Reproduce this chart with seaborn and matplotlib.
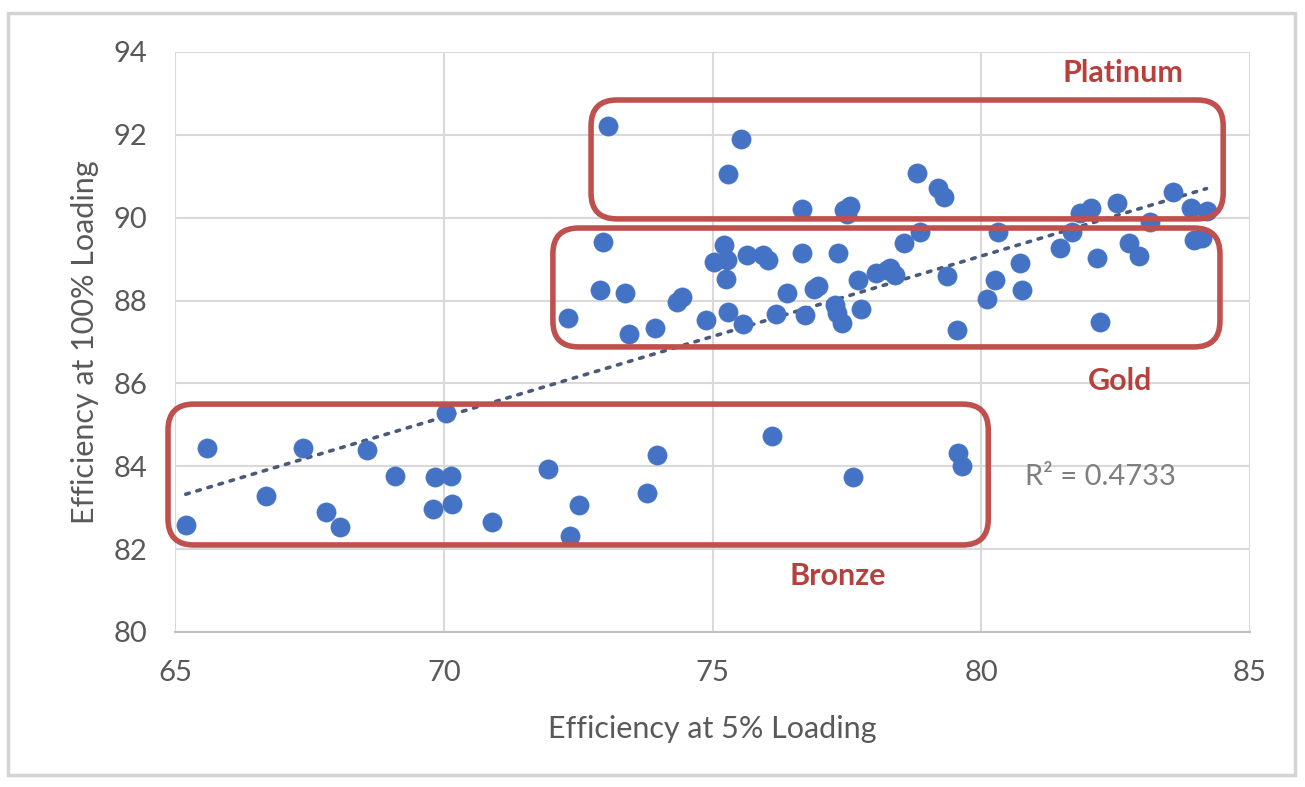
import matplotlib
matplotlib.use("Agg")
import matplotlib.pyplot as plt
import seaborn as sns
import pandas as pd
from matplotlib.patches import FancyBboxPatch, Rectangle

# Efficiency at 5% loading (x) and at 100% loading (y)
eff_5 = [
    65.2, 65.59, 66.7, 67.39, 67.8, 68.07, 68.58, 69.09, 69.8, 69.84, 70.05, 70.13,
    70.16, 70.9, 71.93, 72.35, 72.52, 73.79, 73.96, 76.11, 77.62, 79.56, 79.65,
    73.06, 75.53, 75.28, 76.67, 77.45, 77.56, 77.5, 72.96, 75.22, 75.02, 75.26,
    75.25, 75.64, 75.93, 76.04, 76.67, 77.33, 72.91, 73.38, 74.33, 74.43, 72.32,
    73.45, 73.93, 74.87, 75.28, 75.57, 76.38, 76.18, 76.72, 76.96, 76.88, 77.27,
    77.31, 77.4, 77.71, 77.76, 78.05, 78.24, 78.3, 78.4, 78.56, 78.86, 78.8,
    79.2, 79.31, 79.36, 79.54, 80.1, 80.26, 80.32, 80.72, 80.75, 81.47, 81.68,
    81.84, 82.05, 82.16, 82.21, 82.52, 82.74, 82.94, 83.14, 83.57, 83.91, 83.95,
    84.1, 84.19,
]
eff_100 = [
    82.58, 84.43, 83.27, 84.43, 82.9, 82.54, 84.39, 83.77, 82.96, 83.73, 85.28, 83.77,
    83.09, 82.65, 83.93, 82.32, 83.07, 83.35, 84.27, 84.73, 83.73, 84.33, 84.0,
    92.22, 91.89, 91.05, 90.21, 90.18, 90.27, 90.1, 89.42, 89.33, 88.92, 88.98,
    88.52, 89.1, 89.1, 88.98, 89.14, 89.14, 88.26, 88.18, 87.96, 88.08, 87.57,
    87.19, 87.33, 87.53, 87.73, 87.43, 88.18, 87.67, 87.65, 88.34, 88.28, 87.89,
    87.69, 87.45, 88.5, 87.8, 88.66, 88.74, 88.78, 88.62, 89.38, 89.66, 91.07,
    90.71, 90.51, 88.58, 87.29, 88.03, 88.5, 89.66, 88.9, 88.26, 89.26, 89.66,
    90.11, 90.23, 89.02, 87.47, 90.35, 89.4, 89.08, 89.9, 90.63, 90.23, 89.46,
    89.5, 90.15,
]

# group boxes: name, x range, y range (data units), label position
groups = ["Platinum", "Gold", "Bronze"]
box_x = [(72.74, 84.5), (72.03, 84.44), (64.87, 80.13)]
box_y = [(89.97, 92.84), (86.88, 89.75), (82.1, 85.5)]
label_pos = [(82.64, 93.49), (82.58, 86.06), (77.33, 81.35)]

df = pd.DataFrame({"x": eff_5, "y": eff_100})

sns.set_style("whitegrid")
plt.rcParams["font.family"] = ["Lato", "DejaVu Sans"]

fig = plt.figure(figsize=(13.05, 7.87), dpi=100)
ax = fig.add_axes([0.1341, 0.197, 0.8238, 0.737])

# outer chart frame
fig.patches.append(Rectangle((8 / 1305, 12 / 787), 1287 / 1305, 762 / 787,
                             transform=fig.transFigure, fill=False,
                             edgecolor="#D4D4D4", linewidth=2.5))

blue = "#4472C4"
red = "#C0504D"
sns.regplot(data=df, x="x", y="y", scatter=False, ci=None, ax=ax,
            line_kws=dict(color="#4A5A7A", linestyle=(0, (1, 2.2)), linewidth=2.6,
                          dash_capstyle="round"))
sns.scatterplot(data=df, x="x", y="y", ax=ax, color=blue, s=190,
                edgecolor=blue, linewidth=0.5, zorder=3)

aspect = 53.75 / 41.43
for name, (x0, x1), (y0, y1), (lx, ly) in zip(groups, box_x, box_y, label_pos):
    box = FancyBboxPatch((x0, y0), x1 - x0, y1 - y0,
                         boxstyle="round,pad=0,rounding_size=0.48",
                         mutation_aspect=aspect, fill=False, edgecolor=red,
                         linewidth=4, clip_on=False, zorder=4)
    ax.add_patch(box)
    ax.text(lx, ly, name, color="#B8403C", fontsize=22, fontweight="bold",
            ha="center", va="center")

ax.text(80.81, 83.74, "R² = 0.4733", color="#7F7F7F", fontsize=21,
        ha="left", va="center")

ax.set_xlim(65, 85)
ax.set_ylim(80, 94)
ax.set_xticks([65, 70, 75, 80, 85])
ax.set_yticks([80, 82, 84, 86, 88, 90, 92, 94])
ax.grid(color="#D9D9D9", linewidth=1.5)
for side in ["left", "right", "top"]:
    ax.spines[side].set_visible(False)
ax.spines["bottom"].set_color("#BFBFBF")
ax.spines["bottom"].set_linewidth(1.5)
ax.tick_params(axis="both", labelsize=21, labelcolor="#595959", length=0, pad=20)
ax.set_xlabel("Efficiency at 5% Loading", fontsize=22, color="#595959", labelpad=21)
ax.set_ylabel("Efficiency at 100% Loading", fontsize=22, color="#595959", labelpad=10)

fig.savefig("out.png", dpi=100)
